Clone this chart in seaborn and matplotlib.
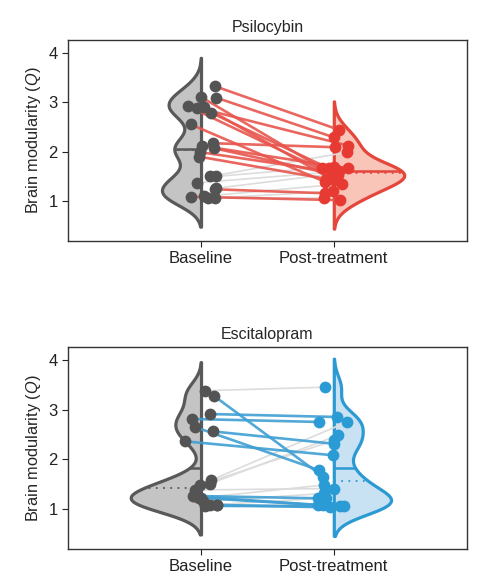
import numpy as np
import pandas as pd
import matplotlib
matplotlib.use('Agg')
import matplotlib.pyplot as plt
import seaborn as sns

conditions = ['Baseline', 'Post-treatment']

# paired brain modularity values
psilo_baseline = [3.32, 3.10, 3.09, 2.92, 2.90, 2.89, 2.79, 2.55, 2.17, 2.12, 2.08,
                  1.99, 1.90, 1.50, 1.50, 1.37, 1.26, 1.24, 1.09, 1.10, 1.06, 1.06]
psilo_post = [2.44, 1.66, 2.29, 1.52, 1.42, 2.12, 1.66, 1.39, 2.09, 1.52, 1.66,
              1.58, 1.45, 1.99, 1.70, 1.60, 1.55, 1.16, 1.02, 1.35, 1.06, 1.20]

escit_baseline = [3.38, 3.28, 2.91, 2.81, 2.65, 2.56, 2.36, 1.58, 1.51, 1.48,
                  1.38, 1.26, 1.25, 1.22, 1.22, 1.15, 1.08, 1.08, 1.06, 1.08]
escit_post = [3.45, 1.65, 2.85, 2.75, 1.78, 2.31, 2.08, 2.75, 2.48, 2.38,
              1.41, 1.21, 1.08, 1.48, 1.05, 1.31, 1.03, 1.21, 1.05, 1.08]

sns.set_style('ticks')
plt.rcParams['font.family'] = ['Liberation Sans', 'DejaVu Sans']
plt.rcParams['mathtext.fontset'] = 'custom'
plt.rcParams['mathtext.it'] = 'Liberation Sans:italic'
plt.rcParams['mathtext.rm'] = 'Liberation Sans'

GREY_PT = '#545454'
GREY_FILL = '#c4c4c4'
GREY_EDGE = '#595959'
GREY_LINE = '#dcdcdc'
BW = 0.23  # same kernel width (in Q units) for every violin


def fixed_bw(kde):
    return BW / np.std(kde.dataset, ddof=1)


def edge_x(poly, pos, y):
    # outer edge of a half violin at height y
    v = poly.get_paths()[0].vertices
    v = v[np.abs(v[:, 0] - pos) > 1e-6]
    v = v[np.argsort(v[:, 1])]
    return np.interp(y, v[:, 1], v[:, 0])


def move_half(poly, pos):
    # seaborn puts both split halves at the hue midpoint; put each at its own tick
    v = poly.get_paths()[0].vertices
    vals, counts = np.unique(np.round(v[:, 0], 9), return_counts=True)
    centre = vals[np.argmax(counts)]
    v[:, 0] = v[:, 0] - centre + pos


def draw_panel(ax, base, post, title, pt_color, fill, edge, line_color, seed):
    df = pd.DataFrame({'pos': [0] * len(base) + [1] * len(post),
                       'time': [conditions[0]] * len(base) + [conditions[1]] * len(post),
                       'Q': base + post})
    n0 = len(ax.collections)
    sns.violinplot(data=df, x='pos', y='Q', hue='time', split=True, inner=None,
                   hue_order=conditions, native_scale=True, dodge=False,
                   palette={conditions[0]: GREY_FILL, conditions[1]: fill},
                   saturation=1, bw_method=fixed_bw, cut=2.5, width=0.53,
                   linewidth=2.3, density_norm='area', common_norm=True,
                   legend=False, ax=ax)
    polys = ax.collections[n0:n0 + 2]
    for i, (poly, ec) in enumerate(zip(polys, [GREY_EDGE, edge])):
        move_half(poly, i)
        poly.set_edgecolor(ec)
        poly.set_zorder(1)

    # mean (solid) and median (dotted) markers
    for i, (vals, poly, ec) in enumerate(zip([base, post], polys, [GREY_EDGE, edge])):
        m = np.mean(vals)
        md = np.median(vals)
        ax.plot([i, edge_x(poly, i, m)], [m, m], color=ec, lw=1.8, zorder=1.5,
                solid_capstyle='butt')
        ax.plot([i, edge_x(poly, i, md)], [md, md], color=ec, lw=1.3,
                ls=(0, (1, 3)), zorder=1.5)

    rng = np.random.default_rng(seed)
    xb = rng.uniform(-0.12, 0.12, len(base))
    xp = 1 + rng.uniform(-0.12, 0.12, len(post))

    for b, p, x0, x1 in zip(base, post, xb, xp):
        if p < b:
            ax.plot([x0, x1], [b, p], color=line_color, lw=1.9, alpha=0.9, zorder=3)
        else:
            ax.plot([x0, x1], [b, p], color=GREY_LINE, lw=1.2, zorder=2)

    sns.scatterplot(x=xb, y=base, color=GREY_PT, s=72, linewidth=0, ax=ax, zorder=4)
    sns.scatterplot(x=xp, y=post, color=pt_color, s=72, linewidth=0, ax=ax, zorder=4)

    ax.set_xlim(-1, 2)
    ax.set_ylim(0.2, 4.25)
    ax.set_yticks([1, 2, 3, 4])
    ax.set_xticks([0, 1])
    ax.set_xticklabels(conditions)
    ax.set_xlabel('')
    ax.set_ylabel(r'Brain modularity ($\mathit{Q}$)', fontsize=11.8)
    ax.set_title(title, fontsize=11.5, pad=6)
    ax.tick_params(labelsize=12, length=4, width=0.8, colors='#222222')
    for s in ax.spines.values():
        s.set_visible(True)
        s.set_color('#333333')
        s.set_linewidth(1.0)


fig = plt.figure(figsize=(4.84, 5.83), dpi=100)
ax1 = fig.add_axes([0.141, 0.587, 0.823, 0.344])
ax2 = fig.add_axes([0.141, 0.059, 0.823, 0.345])

draw_panel(ax1, psilo_baseline, psilo_post, 'Psilocybin',
           '#e63a32', '#f9c5b9', '#e5463c', '#e8564e', 4)
draw_panel(ax2, escit_baseline, escit_post, 'Escitalopram',
           '#2b9bd6', '#c8e2f4', '#2c9ad2', '#3f9fd3', 7)

fig.savefig('out.png', dpi=100)
